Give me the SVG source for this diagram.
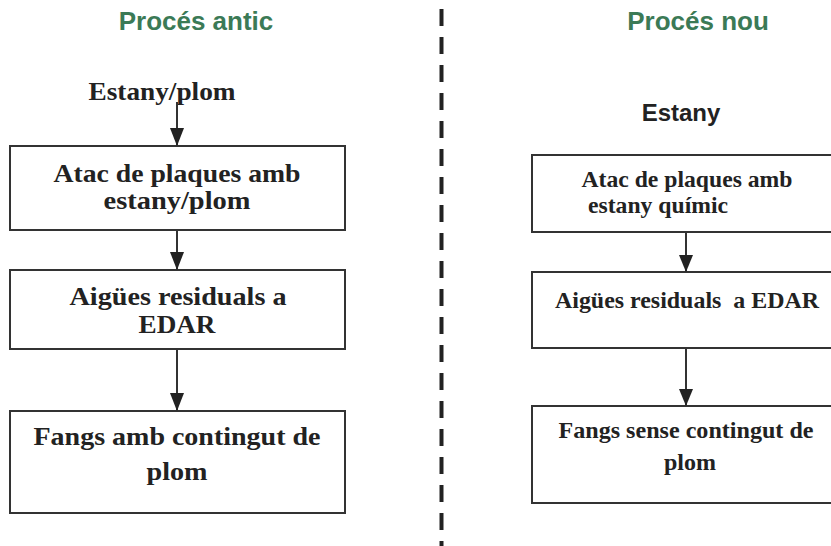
<svg xmlns="http://www.w3.org/2000/svg" width="831" height="546" viewBox="0 0 831 546">
<style>
.title{font-family:"Liberation Sans",Arial,sans-serif;font-weight:bold;font-size:26px;fill:#3b7a56;text-anchor:middle}
.box{fill:#fff;stroke:#333;stroke-width:2}
.tl{font-family:"Liberation Serif","Times New Roman",serif;font-weight:bold;font-size:26px;fill:#222;text-anchor:middle}
.tr{font-family:"Liberation Serif","Times New Roman",serif;font-weight:bold;font-size:24px;fill:#222;text-anchor:middle;white-space:pre}
.sans{font-family:"Liberation Sans",Arial,sans-serif;font-weight:bold;font-size:24px;fill:#222;text-anchor:middle}
.line{stroke:#333;stroke-width:2;fill:none}
.head{fill:#222}
</style>
<rect width="831" height="546" fill="#fff"/>
<text class="title" x="196" y="30">Procés antic</text>
<text class="title" x="698" y="30">Procés nou</text>
<line x1="441.5" y1="9" x2="441.5" y2="546" stroke="#222" stroke-width="4" stroke-dasharray="17 11"/>
<g id="src-left"><text class="tl" x="162" y="100" textLength="147" lengthAdjust="spacingAndGlyphs">Estany/plom</text></g>
<g id="src-right"><text class="sans" x="681" y="121">Estany</text></g>
<g id="l1"><rect class="box" x="10" y="146" width="335" height="84"/><text class="tl" x="177" y="182" textLength="247" lengthAdjust="spacingAndGlyphs">Atac de plaques amb</text><text class="tl" x="177" y="209" textLength="147" lengthAdjust="spacingAndGlyphs">estany/plom</text></g>
<g id="l2"><rect class="box" x="10" y="270" width="335" height="79"/><text class="tl" x="178" y="305" textLength="217" lengthAdjust="spacingAndGlyphs">Aigües residuals a</text><text class="tl" x="177" y="333" textLength="77" lengthAdjust="spacingAndGlyphs">EDAR</text></g>
<g id="l3"><rect class="box" x="10" y="411" width="335" height="102"/><text class="tl" x="177" y="445" textLength="287" lengthAdjust="spacingAndGlyphs">Fangs amb contingut de</text><text class="tl" x="177" y="480" textLength="61" lengthAdjust="spacingAndGlyphs">plom</text></g>
<g id="r1"><rect class="box" x="532" y="155" width="320" height="77"/><text class="tr" x="687" y="187" textLength="211" lengthAdjust="spacingAndGlyphs">Atac de plaques amb</text><text class="tr" x="658" y="213" textLength="140" lengthAdjust="spacingAndGlyphs">estany químic</text></g>
<g id="r2"><rect class="box" x="532" y="272" width="320" height="76"/><text class="tr" x="687" y="308" xml:space="preserve" textLength="264" lengthAdjust="spacingAndGlyphs">Aigües residuals  a EDAR</text></g>
<g id="r3"><rect class="box" x="532" y="406" width="320" height="97"/><text class="tr" x="686" y="438" textLength="255" lengthAdjust="spacingAndGlyphs">Fangs sense contingut de</text><text class="tr" x="690" y="470">plom</text></g>
<g id="connectors">
<path class="line" d="M177,102 V146"/><path class="head" d="M170,128 H184 L177,146 Z"/>
<path class="line" d="M177,230 V270"/><path class="head" d="M170,252 H184 L177,270 Z"/>
<path class="line" d="M177,349 V411"/><path class="head" d="M170,393 H184 L177,411 Z"/>
<path class="line" d="M686,232 V272"/><path class="head" d="M679,255 H693 L686,272 Z"/>
<path class="line" d="M686,348 V406"/><path class="head" d="M679,389 H693 L686,406 Z"/>
</g>
</svg>
